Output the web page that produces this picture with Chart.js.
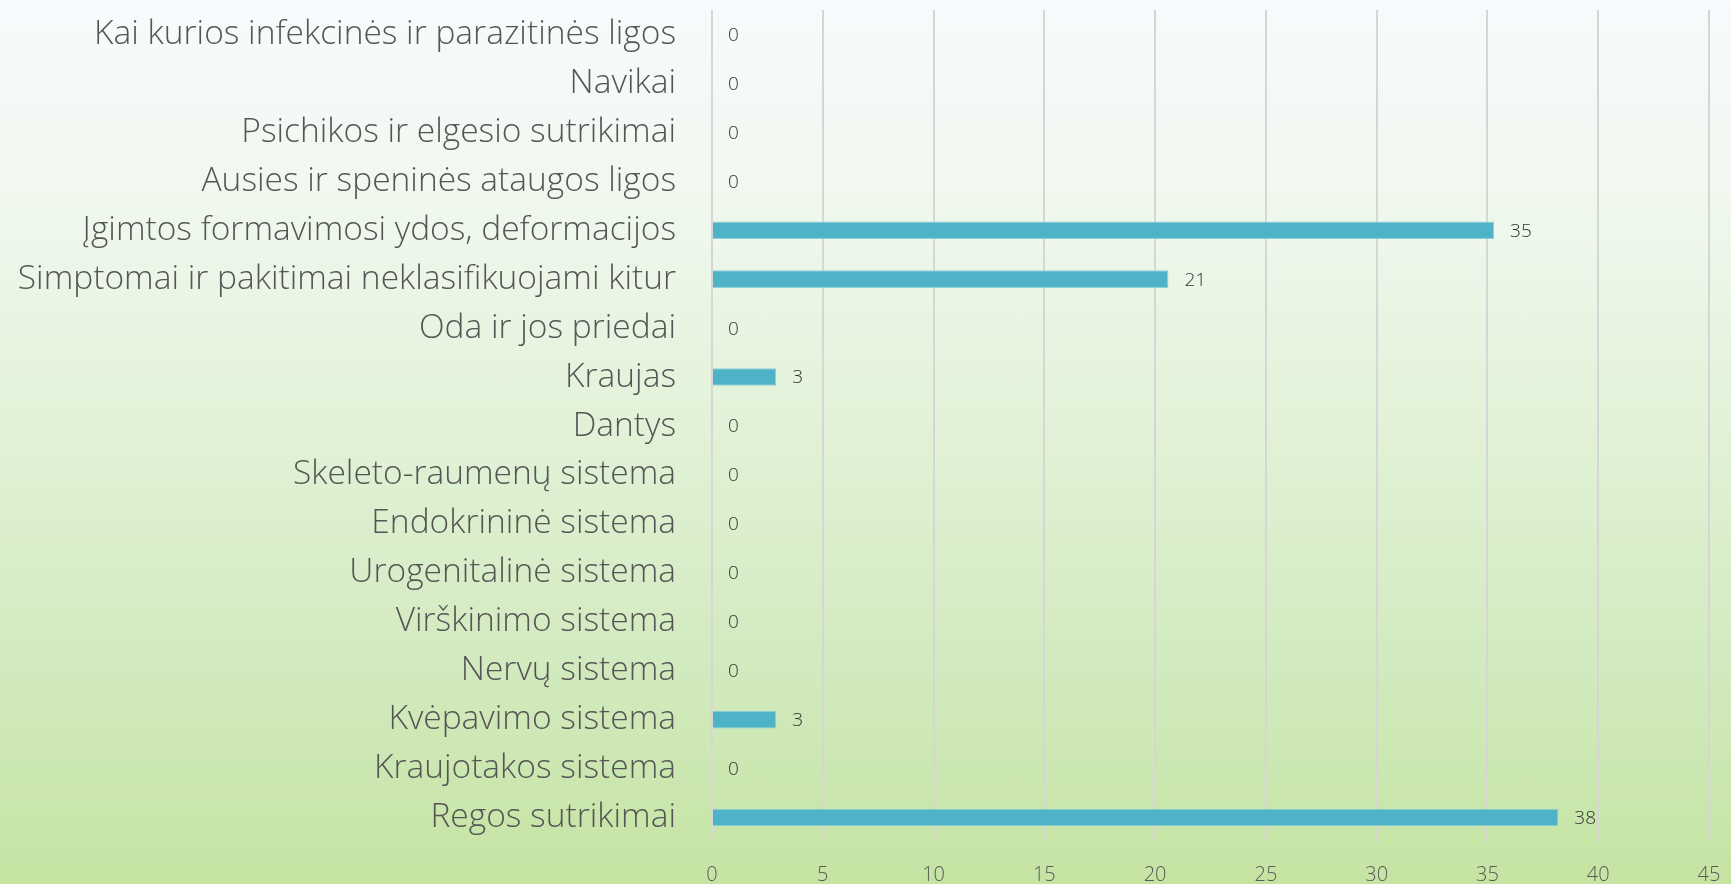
<!DOCTYPE html>
<html>
<head>
<meta charset="utf-8">
<script src="https://cdn.jsdelivr.net/npm/chart.js@4/dist/chart.umd.min.js"></script>
<style>
  html, body { margin: 0; padding: 0; }
  body {
    width: 1731px; height: 884px; overflow: hidden;
    background: linear-gradient(to bottom, #F6FBFD 0%, #F0F8EE 23%, #E2F2D8 48%, #D3EBC2 72%, #C5E4A2 100%);
  }
  #wrap { position: absolute; left: 0; top: 0; width: 1731px; height: 884px; }
</style>
</head>
<body>
<div id="wrap"><canvas id="c" width="1731" height="884"></canvas></div>
<script>
const categories = [
  "Kai kurios infekcinės ir parazitinės ligos",
  "Navikai",
  "Psichikos ir elgesio sutrikimai",
  "Ausies ir speninės ataugos ligos",
  "Įgimtos formavimosi ydos, deformacijos",
  "Simptomai ir pakitimai neklasifikuojami kitur",
  "Oda ir jos priedai",
  "Kraujas",
  "Dantys",
  "Skeleto-raumenų sistema",
  "Endokrininė sistema",
  "Urogenitalinė sistema",
  "Virškinimo sistema",
  "Nervų sistema",
  "Kvėpavimo sistema",
  "Kraujotakos sistema",
  "Regos sutrikimai"
];
const values = [0, 0, 0, 0, 35.3, 20.6, 0, 2.9, 0, 0, 0, 0, 0, 0, 2.9, 0, 38.2];
const xTicks = [0, 5, 10, 15, 20, 25, 30, 35, 40, 45];

const FONT = "'Open Sans', Lato, sans-serif";

const valueLabels = {
  id: 'valueLabels',
  afterDatasetsDraw(chart) {
    const ctx = chart.ctx;
    const meta = chart.getDatasetMeta(0);
    ctx.save();
    ctx.font = "300 19px " + FONT;
    ctx.fillStyle = "#333333";
    ctx.textAlign = "left";
    ctx.textBaseline = "middle";
    meta.data.forEach((el, i) => {
      const v = chart.data.datasets[0].data[i];
      ctx.fillText(String(Math.round(v)), el.x + 16, el.y + 1);
    });
    ctx.restore();
  }
};

new Chart(document.getElementById('c'), {
  type: 'bar',
  data: {
    labels: categories,
    datasets: [{
      data: values,
      backgroundColor: '#4FB3C8',
      borderColor: '#8ED0DC',
      borderWidth: 1,
      borderSkipped: 'start',
      categoryPercentage: 1.0,
      barPercentage: 0.36
    }]
  },
  options: {
    indexAxis: 'y',
    responsive: false,
    animation: false,
    layout: { padding: { top: 10, right: 22, bottom: 0, left: 0 } },
    plugins: { legend: { display: false }, tooltip: { enabled: false } },
    scales: {
      x: {
        min: 0, max: 45,
        afterBuildTicks(scale) { scale.ticks = xTicks.map(v => ({ value: v })); },
        afterFit(scale) { scale.height = 42; scale.paddingLeft = 0; scale.paddingRight = 0; },
        grid: { color: '#D6D6D6', lineWidth: 2, drawTicks: false },
        border: { display: false },
        ticks: {
          padding: 21,
          color: '#595959',
          font: { family: FONT, size: 20, weight: '300' }
        }
      },
      y: {
        afterFit(scale) { scale.width = 712; scale.paddingTop = 0; scale.paddingBottom = 0; },
        grid: { display: false, drawTicks: false },
        border: { display: false },
        ticks: {
          padding: 36,
          color: '#555555',
          autoSkip: false,
          font: { family: FONT, size: 33.5, weight: '300' }
        }
      }
    }
  },
  plugins: [valueLabels]
});
</script>
</body>
</html>
